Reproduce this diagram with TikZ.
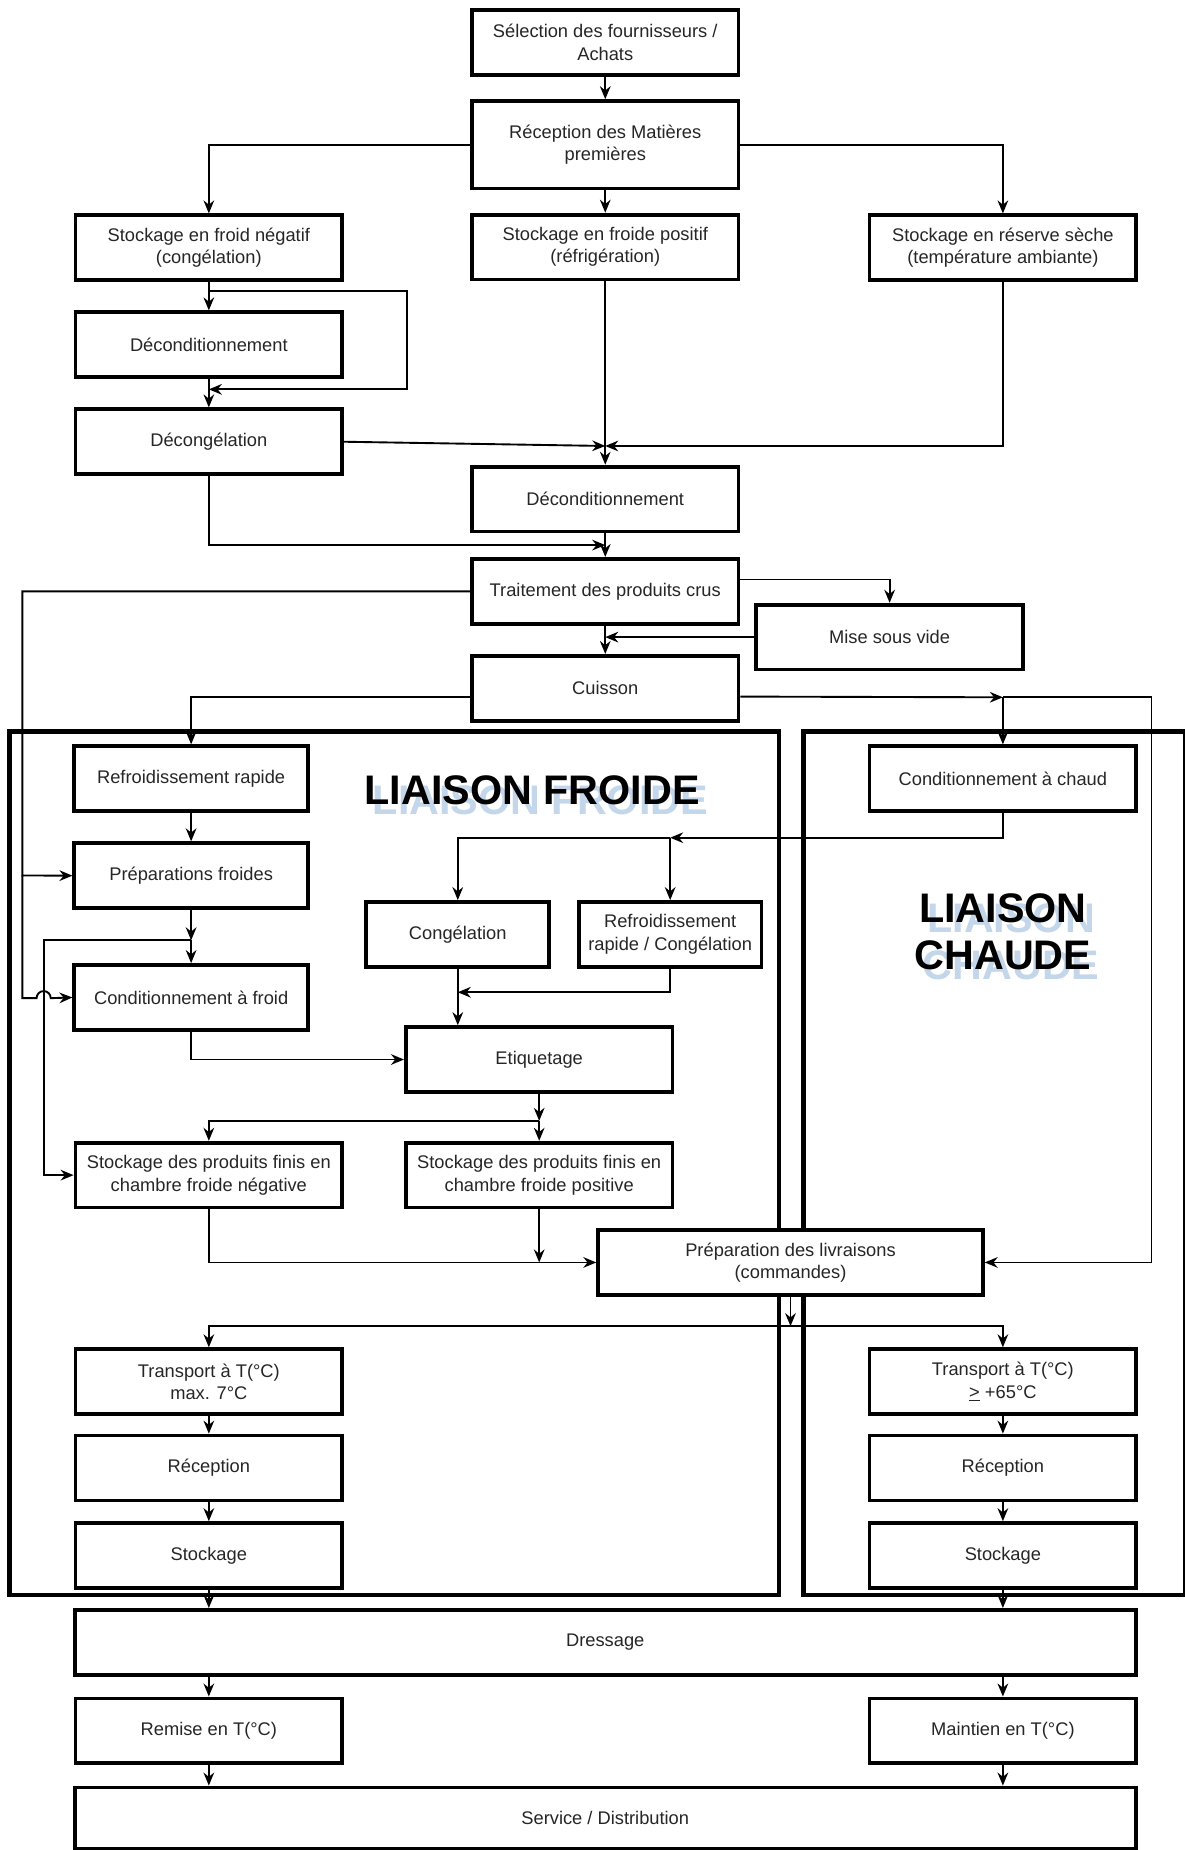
\documentclass[tikz,border=0pt]{standalone}
\usepackage{fontspec}
\setmainfont{Liberation Sans}
\usetikzlibrary{positioning,arrows.meta}
\definecolor{shadowblue}{RGB}{196,214,234}
\tikzset{
	box/.style={draw, line width=3.2pt, fill=white, text=black!85, minimum width=226pt, minimum height=55pt, align=center, inner sep=2pt, font=\fontsize{15.5}{19}\selectfont},
	smallbox/.style={box, minimum width=198pt},
	narrowbox/.style={box, minimum width=155pt},
	widebox/.style={box, minimum width=899pt},
	arr/.style={line width=1.6pt, -{Stealth[length=11pt,width=9pt]}},
	frame/.style={line width=3.5pt},
	liaison/.style={font=\fontsize{35}{40}\selectfont\bfseries, align=center}
}

\begin{document}
\begin{tikzpicture}[x=1pt,y=-1pt]
		\useasboundingbox (0,0) rectangle (1004,1568);
		\draw[frame] (8,620) rectangle (660,1352);
		\draw[frame] (681,620) rectangle (1004,1352);
		
		\node[liaison, text=shadowblue] (lfshade) at (458,678) {LIAISON FROIDE};
		\node[liaison] (lf) at (451,670) {LIAISON FROIDE};
		\node[liaison, text=shadowblue] (lcshade) at (857,798) {LIAISON\\CHAUDE};
		\node[liaison] (lc) at (850,790) {LIAISON\\CHAUDE};
		
		\node[box] (select) at (513,36) {Sélection des fournisseurs /\\Achats};
		\node[box, minimum height=74pt, below=19pt of select] (recep) {Réception des Matières\\premières};
		\node[box, below=19pt of recep] (stockpos) {Stockage en froide positif\\(réfrigération)};
		\node[box] (stockneg) at (177,210) {Stockage en froid négatif\\(congélation)};
		\node[box] (stockseche) at (850,210) {Stockage en réserve sèche\\(température ambiante)};
		\node[box, below=24pt of stockneg] (decondA) {Déconditionnement};
		\node[box, below=24pt of decondA] (decong) {Décongélation};
		\node[box] (decondB) at (513,423) {Déconditionnement};
		\node[box, below=20pt of decondB] (trait) {Traitement des produits crus};
		\node[box, below=24pt of trait] (cuisson) {Cuisson};
		\node[box] (mise) at (754,540) {Mise sous vide};
		
		\node[smallbox] (refr) at (162,660) {Refroidissement rapide};
		\node[smallbox, below=24pt of refr] (prepf) {Préparations froides};
		\node[smallbox, below=45pt of prepf] (cfroid) {Conditionnement à froid};
		\node[narrowbox] (cong) at (388,792) {Congélation};
		\node[narrowbox] (refcong) at (568,792) {Refroidissement\\rapide / Congélation};
		\node[box] (etiq) at (457,898) {Etiquetage};
		\node[box] (sneg) at (177,996) {Stockage des produits finis en\\chambre froide négative};
		\node[box] (spos) at (457,996) {Stockage des produits finis en\\chambre froide positive};
		\node[box] (condchaud) at (850,660) {Conditionnement à chaud};
		\node[box, minimum width=326pt] (prepliv) at (670,1070) {Préparation des livraisons\\(commandes)};
		
		\node[box] (trA) at (177,1171) {Transport à T(°C)\\max. 7°C};
		\node[box, below=15pt of trA] (recA) {Réception};
		\node[box, below=16pt of recA] (stkA) {Stockage};
		\node[box] (trB) at (850,1171) {Transport à T(°C)\\\underline{>} +65°C};
		\node[box, below=15pt of trB] (recB) {Réception};
		\node[box, below=16pt of recB] (stkB) {Stockage};
		\node[widebox] (dress) at (513,1392) {Dressage};
		\node[box] (remise) at (177,1467) {Remise en T(°C)};
		\node[box] (maintien) at (850,1467) {Maintien en T(°C)};
		\node[widebox, minimum height=52pt] (service) at (513,1541) {Service / Distribution};
		
		\coordinate (loopa) at (177,247);
		\coordinate (loopb) at (177,330);
		\coordinate (mergeA) at (513,378);
		\coordinate (mergeB) at (513,462);
		\coordinate (mergeC) at (513,540);
		\coordinate (hotsplit) at (850,591);
		\coordinate (coldsplit) at (162,797);
		\coordinate (hotback) at (568,710);
		\coordinate (congjoin) at (388,841);
		\coordinate (etiqsplit) at (457,950);
		\coordinate (posjoin) at (457,1070);
		\coordinate (delivsplit) at (670,1124);
		
		\draw[arr] (select) -- (recep);
		\draw[arr] (recep) -- (stockpos);
		\draw[arr] (recep.west) -| (stockneg.north);
		\draw[arr] (recep.east) -| (stockseche.north);
		\draw[arr] (stockneg) -- (decondA);
		\draw[arr] (loopa) -- (345,247) -- (345,330) -- (loopb);
		\draw[arr] (decondA) -- (decong);
		\draw[arr] (decong.east) -- (mergeA);
		\draw[arr] (stockseche.south) |- (mergeA);
		\draw[arr] (stockpos) -- (decondB);
		\draw[arr] (decong.south) |- (mergeB);
		\draw[arr] (decondB) -- (trait);
		\draw[arr] ([yshift=10pt]trait.east) -| (mise.north);
		\draw[arr] (mise.west) -- (mergeC);
		\draw[arr] (trait) -- (cuisson);
		\draw[arr] (trait.west) -| (19,742) -- (prepf.west);
		\draw[arr] (19,742) -- (19,846) -- (31,846) arc[start angle=180, end angle=0, radius=6pt] -- (cfroid.west);
		\draw[arr] ([yshift=-7pt]cuisson.west) -| (refr.north);
		\draw[arr] ([yshift=-7pt]cuisson.east) -- (hotsplit);
		\draw[arr] (hotsplit) -- (condchaud);
		\draw[arr] (hotsplit) -- (976,591) |- (prepliv.east);
		\draw[arr] (refr) -- (prepf);
		\draw[arr] (prepf) -- (coldsplit);
		\draw[arr] (coldsplit) -- (cfroid);
		\draw[arr] (coldsplit) -| (37,996) -- (sneg.west);
		\draw[arr] (cfroid.south) |- (etiq.west);
		\draw[arr] (condchaud.south) |- (hotback);
		\draw[arr] (hotback) -| (cong.north);
		\draw[arr] (hotback) -- (refcong.north);
		\draw[arr] (refcong.south) |- (congjoin);
		\draw[arr] (cong.south) -- (cong.south |- etiq.north);
		\draw[arr] (etiq) -- (etiqsplit);
		\draw[arr] (etiqsplit) -| (sneg.north);
		\draw[arr] (etiqsplit) -- (spos);
		\draw[arr] (sneg.south) |- (prepliv.west);
		\draw[arr] (spos) -- (posjoin);
		\draw[arr] (prepliv) -- (delivsplit);
		\draw[arr] (delivsplit) -| (trA.north);
		\draw[arr] (delivsplit) -| (trB.north);
		\draw[arr] (trA) -- (recA);
		\draw[arr] (recA) -- (stkA);
		\draw[arr] (trB) -- (recB);
		\draw[arr] (recB) -- (stkB);
		\draw[arr] (stkA) -- (stkA.south |- dress.north);
		\draw[arr] (stkB) -- (stkB.south |- dress.north);
		\draw[arr] (dress.south -| remise.north) -- (remise);
		\draw[arr] (dress.south -| maintien.north) -- (maintien);
		\draw[arr] (remise) -- (remise.south |- service.north);
		\draw[arr] (maintien) -- (maintien.south |- service.north);
	\end{tikzpicture}
\end{document}
